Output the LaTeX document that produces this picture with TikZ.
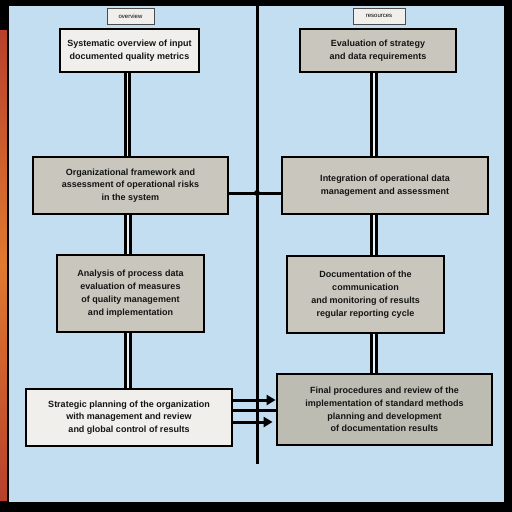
\documentclass[tikz,border=0pt]{standalone}
\usepackage{fontspec}
\setmainfont{Liberation Sans}
\usetikzlibrary{arrows.meta}
\definecolor{panel}{HTML}{C4DEF1}
\definecolor{boxgray}{HTML}{C9C7BD}
\definecolor{boxdark}{HTML}{BDBCB3}
\definecolor{boxlight}{HTML}{F0EFEB}
\definecolor{stripa}{HTML}{B8402C}
\definecolor{stripb}{HTML}{E07A30}
\begin{document}
\begin{tikzpicture}[x=1pt,y=-1pt,
  box/.style={draw=black, line width=2.8pt, inner sep=2pt, align=center,
    font=\bfseries\fontsize{9}{12.8}\selectfont, text=black!92},
  graybox/.style={box, fill=boxgray},
  darkbox/.style={box, fill=boxdark},
  lightbox/.style={box, fill=boxlight},
  hdr/.style={draw=black!70, line width=0.7pt, fill=boxlight,
    font=\fontsize{6}{7}\selectfont, inner sep=1pt, minimum height=16pt},
  dbl/.style={draw=black, line width=3pt, double=panel!40!white, double distance=1.8pt},
  wire/.style={draw=black, line width=3pt},
  arr/.style={wire, -{Triangle[length=9pt,width=10pt]}}
]
\useasboundingbox (0,0) rectangle (512,512);
\fill[black] (0,0) rectangle (512,512);
\shade[top color=stripa, bottom color=stripa, middle color=stripb] (0,30) rectangle (8,500);
\fill[panel] (8,5) rectangle (505,503);
\draw[black, line width=1.8pt] (8,5) rectangle (505,503);

% headers
\node[hdr, minimum width=47pt] (HL) at (130.5,16) {overview};
\node[hdr, minimum width=52pt] (HR) at (379,16) {resources};

% left column
\node[lightbox, minimum width=139pt, minimum height=43pt] (L1) at (129.5,50.5)
  {Systematic overview of input\\documented quality metrics};
\node[graybox, minimum width=195pt, minimum height=57pt] (L2) at (130.5,185.5)
  {Organizational framework and\\assessment of operational risks\\in the system};
\node[graybox, minimum width=147pt, minimum height=77pt] (L3) at (130.5,293.5)
  {Analysis of process data\\evaluation of measures\\of quality management\\and implementation};
\node[lightbox, minimum width=206pt, minimum height=57pt] (L4) at (129,417.5)
  {Strategic planning of the organization\\with management and review\\and global control of results};

% right column
\node[graybox, minimum width=156pt, minimum height=43pt] (R1) at (378,50.5)
  {Evaluation of strategy\\and data requirements};
\node[graybox, minimum width=206pt, minimum height=57pt] (R2) at (385,185.5)
  {Integration of operational data\\management and assessment};
\node[graybox, minimum width=157pt, minimum height=77pt] (R3) at (365.5,294.5)
  {Documentation of the\\communication\\and monitoring of results\\regular reporting cycle};
\node[darkbox, minimum width=215pt, minimum height=71pt] (R4) at (384.5,409.5)
  {Final procedures and review of the\\implementation of standard methods\\planning and development\\of documentation results};

% divider
\coordinate (dtop) at (257,5);
\coordinate (dbot) at (257,464);
\draw[wire] (dtop) -- (dbot);

% double connectors
\draw[dbl] ([xshift=-2pt]L1.south) -- ([xshift=-2pt]L1.south |- L2.north);
\draw[dbl] ([xshift=-2.5pt]L2.south) -- ([xshift=-2.5pt]L2.south |- L3.north);
\draw[dbl] ([xshift=-2.5pt]L3.south) -- ([xshift=-2.5pt]L3.south |- L4.north);
\draw[dbl] ([xshift=-4pt]R1.south) -- ([xshift=-4pt]R1.south |- R2.north);
\draw[dbl] ([xshift=-11pt]R2.south) -- ([xshift=-11pt]R2.south |- R3.north);
\draw[dbl] ([xshift=8.5pt]R3.south) -- ([xshift=8.5pt]R3.south |- R4.north);

% junction
\coordinate (jn) at (257,193);
\draw[wire] (L2.east |- jn) -- (jn) -- (jn -| R2.west);
\fill[black] (jn) circle (3pt);

% arrows between bottom boxes
\coordinate (ay1) at (0,400);
\coordinate (ay2) at (0,410);
\coordinate (ay3) at (0,422);
\draw[arr] (L4.east |- ay1) -- (R4.west |- ay1);
\draw[wire] (L4.east |- ay2) -- (R4.west |- ay2);
\draw[arr, shorten >=3pt] (L4.east |- ay3) -- (R4.west |- ay3);
\end{tikzpicture}
\end{document}
